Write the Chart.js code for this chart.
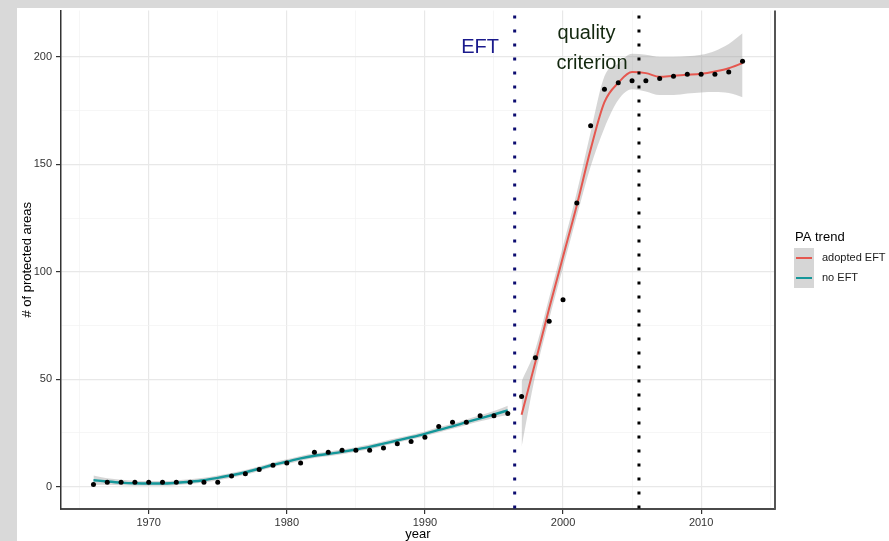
<!DOCTYPE html>
<html>
<head>
<meta charset="utf-8">
<script src="https://cdn.jsdelivr.net/npm/chart.js@4.4.1/dist/chart.umd.min.js"></script>
<style>
  html, body { margin: 0; padding: 0; background: #fff; }
  canvas { display: block; }
</style>
</head>
<body>
<canvas id="chart" width="889" height="541"></canvas>
<script>
// Observed number of protected areas per year
const years = [1966, 1967, 1968, 1969, 1970, 1971, 1972, 1973, 1974, 1975,
  1976, 1977, 1978, 1979, 1980, 1981, 1982, 1983, 1984, 1985,
  1986, 1987, 1988, 1989, 1990, 1991, 1992, 1993, 1994, 1995,
  1996, 1997, 1998, 1999, 2000, 2001, 2002, 2003, 2004, 2005,
  2006, 2007, 2008, 2009, 2010, 2011, 2012, 2013];
const paCount = [1, 2, 2, 2, 2, 2, 2, 2, 2, 2,
  5, 6, 8, 10, 11, 11, 16, 16, 17, 17,
  17, 18, 20, 21, 23, 28, 30, 30, 33, 33,
  34, 42, 60, 77, 87, 132, 168, 185, 188, 189,
  189, 190, 191, 192, 192, 192, 193, 198];

// Smoothed trend before the EFT ("no EFT") with its confidence band
const noEftYears = [1966, 1967, 1968, 1969, 1970, 1971, 1972, 1973, 1974, 1975,
  1976, 1977, 1978, 1979, 1980, 1981, 1982, 1983, 1984, 1985,
  1986, 1987, 1988, 1989, 1990, 1991, 1992, 1993, 1994, 1995, 1996];
const noEftFit = [3.0, 2.4, 1.9, 1.6, 1.5, 1.5, 1.8, 2.3, 3.0, 4.1,
  5.3, 6.7, 8.4, 10.2, 11.6, 13.2, 14.4, 15.2, 16.2, 17.3,
  18.5, 20.0, 21.5, 23.0, 24.6, 26.4, 28.1, 30.0, 31.8, 33.6, 35.5];
const noEftLow = [0.8, 0.9, 0.6, 0.4, 0.4, 0.4, 0.7, 1.2, 1.9, 3.0,
  4.2, 5.6, 7.3, 9.1, 10.5, 12.1, 13.3, 14.1, 15.1, 16.2,
  17.4, 18.9, 20.4, 21.9, 23.5, 25.2, 26.9, 28.7, 30.4, 32.0, 33.3];
const noEftHigh = [5.2, 3.9, 3.2, 2.8, 2.6, 2.6, 2.9, 3.4, 4.1, 5.2,
  6.4, 7.8, 9.5, 11.3, 12.7, 14.3, 15.5, 16.3, 17.3, 18.4,
  19.6, 21.1, 22.6, 24.1, 25.7, 27.6, 29.3, 31.3, 33.2, 35.2, 37.7];

// Smoothed trend after the EFT was adopted, with its confidence band
const eftYears = [1997, 1998, 1999, 2000, 2001, 2002, 2003, 2004, 2005,
  2006, 2007, 2008, 2009, 2010, 2011, 2012, 2013];
const eftFit = [33.5, 58, 83, 107, 131, 157, 179, 188, 193,
  192.5, 190.8, 191.3, 191.7, 192.2, 193.3, 194.8, 197.2];
const eftLow = [18.5, 52, 78, 102, 126, 149, 167, 180, 185,
  184, 182.3, 182.3, 183, 183.5, 183.7, 183.2, 181.3];
const eftHigh = [49, 64, 88, 112, 137, 165, 191, 197, 201.5,
  201, 200, 200, 200.3, 201, 202.8, 206, 211];

// Axis ticks
const xTickLabels = [1970, 1980, 1990, 2000, 2010];
const xMinorTicks = [1965, 1975, 1985, 1995, 2005, 2015];
const yTickLabels = [0, 50, 100, 150, 200];
const yMinorTicks = [25, 75, 125, 175];

// Reference lines
const eftYear = 1996.5;
const qualityYear = 2005.5;

const FONT = "'Liberation Sans', Arial, sans-serif";
const RED = '#e5574f';
const TEAL = '#14979a';
const RIBBON = 'rgba(153,153,153,0.4)';

Chart.defaults.font.family = FONT;

const toPoints = (xs, ys) => xs.map((x, i) => ({ x, y: ys[i] }));

// grey frame + white figure background
const backgroundPlugin = {
  id: 'background',
  beforeDraw(chart) {
    const { ctx, width, height } = chart;
    ctx.save();
    ctx.fillStyle = '#d9d9d9';
    ctx.fillRect(0, 0, width, height);
    ctx.fillStyle = '#ffffff';
    ctx.fillRect(17, 8, width - 17, height - 8);
    ctx.restore();
  }
};

function dottedLine(ctx, x, top, bottom, color) {
  ctx.save();
  ctx.strokeStyle = color;
  ctx.lineWidth = 3;
  ctx.setLineDash([3, 11]);
  ctx.beginPath();
  ctx.moveTo(x, top + 5);
  ctx.lineTo(x, bottom);
  ctx.stroke();
  ctx.restore();
}

// vlines, labels, right border and legend
const annotationPlugin = {
  id: 'annotations',
  afterDatasetsDraw(chart) {
    const { ctx, chartArea, scales: { x, y } } = chart;

    dottedLine(ctx, x.getPixelForValue(eftYear), chartArea.top, chartArea.bottom, '#0c0c70');
    dottedLine(ctx, x.getPixelForValue(qualityYear), chartArea.top, chartArea.bottom, '#000000');

    ctx.save();
    ctx.font = `20px ${FONT}`;
    ctx.textAlign = 'center';
    ctx.textBaseline = 'middle';
    ctx.fillStyle = '#1a1a8c';
    ctx.fillText('EFT', x.getPixelForValue(1994), y.getPixelForValue(204.5));
    ctx.fillStyle = '#13280f';
    ctx.fillText('quality', x.getPixelForValue(2001.7), y.getPixelForValue(211));
    ctx.fillText('criterion', x.getPixelForValue(2002.1), y.getPixelForValue(197));
    ctx.restore();

    // right panel border
    ctx.save();
    ctx.strokeStyle = '#555';
    ctx.lineWidth = 2;
    ctx.beginPath();
    ctx.moveTo(chartArea.right, chartArea.top);
    ctx.lineTo(chartArea.right, chartArea.bottom);
    ctx.stroke();
    ctx.restore();
  },
  afterDraw(chart) {
    const { ctx } = chart;
    ctx.save();
    ctx.fillStyle = '#000';
    ctx.font = `13px ${FONT}`;
    ctx.textBaseline = 'middle';
    ctx.fillText('PA trend', 795, 237);

    const keys = [['adopted EFT', RED], ['no EFT', TEAL]];
    keys.forEach(([label, color], i) => {
      const top = 248 + i * 20;
      ctx.fillStyle = '#d6d6d6';
      ctx.fillRect(794, top, 20, 20);
      ctx.strokeStyle = color;
      ctx.lineWidth = 2;
      ctx.beginPath();
      ctx.moveTo(796, top + 10);
      ctx.lineTo(812, top + 10);
      ctx.stroke();
      ctx.fillStyle = '#1a1a1a';
      ctx.font = `11px ${FONT}`;
      ctx.fillText(label, 822, top + 10);
    });
    ctx.restore();
  }
};

const isMajorX = v => xTickLabels.includes(v);
const isMajorY = v => yTickLabels.includes(v);

new Chart(document.getElementById('chart'), {
  type: 'line',
  data: {
    datasets: [
      {
        type: 'scatter',
        label: 'observed',
        data: toPoints(years, paCount),
        backgroundColor: '#000',
        borderColor: '#000',
        pointRadius: 2.5,
        pointBorderWidth: 0
      },
      {
        label: 'adopted EFT',
        data: toPoints(eftYears, eftFit),
        borderColor: RED,
        borderWidth: 2,
        pointRadius: 0,
        fill: false,
        cubicInterpolationMode: 'monotone'
      },
      {
        label: 'no EFT',
        data: toPoints(noEftYears, noEftFit),
        borderColor: TEAL,
        borderWidth: 2.4,
        pointRadius: 0,
        fill: false,
        cubicInterpolationMode: 'monotone'
      },
      {
        label: 'eft upper',
        data: toPoints(eftYears, eftHigh),
        borderColor: 'rgba(0,0,0,0)',
        borderWidth: 0,
        pointRadius: 0,
        backgroundColor: RIBBON,
        fill: '+1',
        cubicInterpolationMode: 'monotone'
      },
      {
        label: 'eft lower',
        data: toPoints(eftYears, eftLow),
        borderColor: 'rgba(0,0,0,0)',
        borderWidth: 0,
        pointRadius: 0,
        fill: false,
        cubicInterpolationMode: 'monotone'
      },
      {
        label: 'no eft upper',
        data: toPoints(noEftYears, noEftHigh),
        borderColor: 'rgba(0,0,0,0)',
        borderWidth: 0,
        pointRadius: 0,
        backgroundColor: RIBBON,
        fill: '+1',
        cubicInterpolationMode: 'monotone'
      },
      {
        label: 'no eft lower',
        data: toPoints(noEftYears, noEftLow),
        borderColor: 'rgba(0,0,0,0)',
        borderWidth: 0,
        pointRadius: 0,
        fill: false,
        cubicInterpolationMode: 'monotone'
      }
    ]
  },
  options: {
    responsive: false,
    animation: false,
    layout: { padding: { left: 17, top: 8, right: 114, bottom: 0 } },
    plugins: {
      legend: { display: false },
      tooltip: { enabled: false }
    },
    scales: {
      x: {
        type: 'linear',
        min: 1963.65,
        max: 2015.35,
        afterBuildTicks: s => {
          s.ticks = [...xMinorTicks, ...xTickLabels].sort((a, b) => a - b).map(v => ({ value: v }));
        },
        afterFit: s => { s.height = 32; },
        grid: {
          color: c => isMajorX(c.tick && c.tick.value) ? '#e8e8e8' : '#f2f2f2',
          lineWidth: c => isMajorX(c.tick && c.tick.value) ? 1.2 : 0.7,
          tickLength: 5,
          tickColor: c => isMajorX(c.tick && c.tick.value) ? '#333' : 'rgba(0,0,0,0)'
        },
        border: { display: true, color: '#4a4a4a', width: 2 },
        ticks: {
          autoSkip: false,
          maxRotation: 0,
          padding: 2,
          color: '#333',
          font: { size: 11 },
          callback: v => isMajorX(v) ? String(v) : ''
        },
        title: {
          display: true,
          text: 'year',
          color: '#000',
          font: { size: 13, lineHeight: 1 },
          padding: { top: 0, bottom: 0 }
        }
      },
      y: {
        type: 'linear',
        min: -10.4,
        max: 221.6,
        afterBuildTicks: s => {
          s.ticks = [...yMinorTicks, ...yTickLabels].sort((a, b) => a - b).map(v => ({ value: v }));
        },
        afterFit: s => { s.width = 44; },
        grid: {
          color: c => isMajorY(c.tick && c.tick.value) ? '#e8e8e8' : '#f2f2f2',
          lineWidth: c => isMajorY(c.tick && c.tick.value) ? 1.2 : 0.7,
          tickLength: 5,
          tickColor: c => isMajorY(c.tick && c.tick.value) ? '#333' : 'rgba(0,0,0,0)'
        },
        border: { display: true, color: '#333', width: 1.5 },
        ticks: {
          autoSkip: false,
          padding: 4,
          color: '#333',
          font: { size: 11 },
          callback: v => isMajorY(v) ? String(v) : ''
        },
        title: {
          display: true,
          text: '# of protected areas',
          color: '#000',
          font: { size: 13 },
          padding: { top: 3, bottom: 0 }
        }
      }
    }
  },
  plugins: [backgroundPlugin, annotationPlugin]
});
</script>
</body>
</html>
